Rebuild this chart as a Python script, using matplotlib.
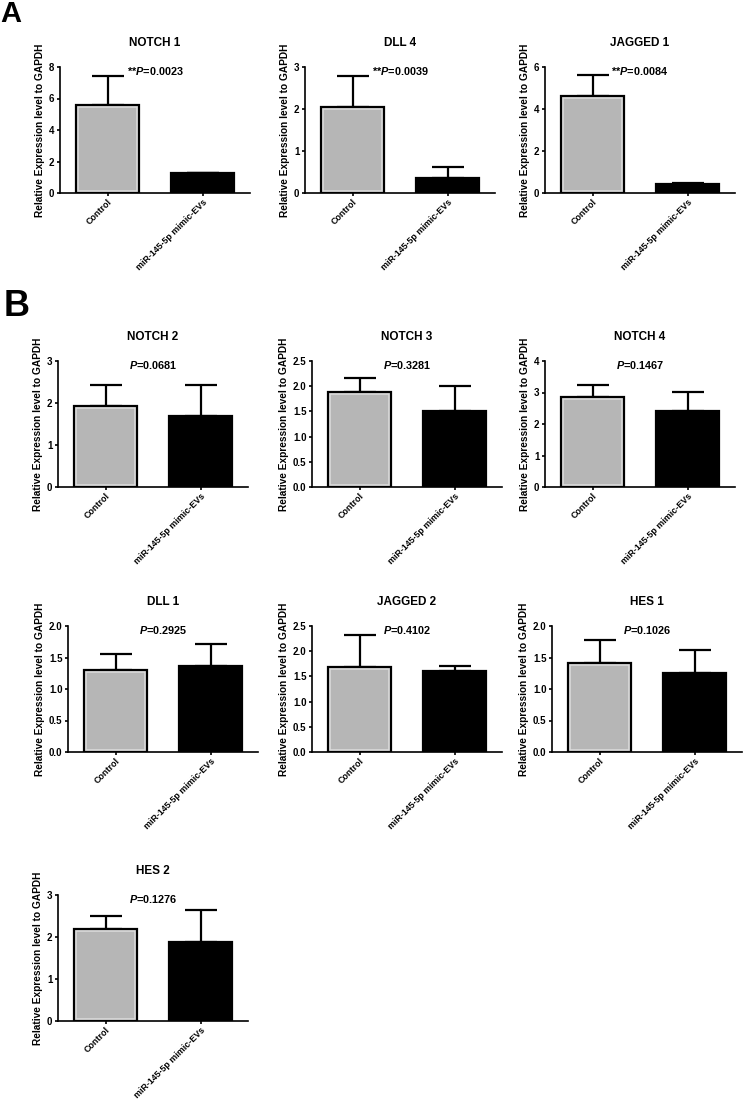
import matplotlib
matplotlib.use("Agg")
import matplotlib.pyplot as plt
import numpy as np

plt.rcParams['font.family'] = ['Liberation Sans', 'DejaVu Sans']
plt.rcParams['font.weight'] = 'bold'
plt.rcParams['mathtext.fontset'] = 'custom'
plt.rcParams['mathtext.it'] = 'Liberation Sans:italic:bold'
plt.rcParams['mathtext.rm'] = 'Liberation Sans:bold'

# ---- data ----
genes = ["NOTCH 1", "DLL 4", "JAGGED 1", "NOTCH 2", "NOTCH 3", "NOTCH 4",
         "DLL 1", "JAGGED 2", "HES 1", "HES 2"]
groups = ["Control", "miR-145-5p mimic-EVs"]
control_mean = [5.57, 2.04, 4.63, 1.92, 1.89, 2.85, 1.30, 1.68, 1.41, 2.20]
control_err = [1.88, 0.75, 1.00, 0.50, 0.27, 0.40, 0.26, 0.64, 0.37, 0.30]
mimic_mean = [1.25, 0.36, 0.42, 1.69, 1.51, 2.42, 1.37, 1.61, 1.25, 1.88]
mimic_err = [0.05, 0.27, 0.07, 0.75, 0.49, 0.60, 0.35, 0.09, 0.37, 0.76]
p_labels = ["**$P$=0.0023", "**$P$=0.0039", "**$P$=0.0084", "$P$=0.0681",
            "$P$=0.3281", "$P$=0.1467", "$P$=0.2925", "$P$=0.4102",
            "$P$=0.1026", "$P$=0.1276"]
y_max = [8, 3, 6, 3, 2.5, 4, 2.0, 2.5, 2.0, 3]
y_step = [2, 1, 2, 1, 0.5, 1, 0.5, 0.5, 0.5, 1]
y_decimals = [0, 0, 0, 0, 1, 0, 1, 1, 1, 0]

# ---- layout (pixels) ----
W, H = 744, 1105
ax_left_px = [60, 305, 545, 58, 312, 545, 68, 312, 552, 58]
ax_bottom_px = [193, 193, 193, 487, 487, 487, 752, 752, 752, 1021]
ax_w_px = 190
ax_h_px = 126

fig = plt.figure(figsize=(W / 100, H / 100), dpi=100)
fill_colors = ['#B6B6B6', '#000000']
inner_edge = ['#DCDCDC', '#000000']

for i, g in enumerate(genes):
    rect = [ax_left_px[i] / W, 1 - ax_bottom_px[i] / H, ax_w_px / W, ax_h_px / H]
    ax = fig.add_axes(rect)
    x = np.arange(2)
    means = [control_mean[i], mimic_mean[i]]
    errs = [control_err[i], mimic_err[i]]
    # fill with light inner rim (clipped to the bar itself)
    under = ax.bar(x, means, width=0.67, color=fill_colors, edgecolor=inner_edge,
                   linewidth=4.0, zorder=2)
    for p in under.patches:
        p.set_clip_path(p)
    ax.bar(x, means, width=0.67, color='none', edgecolor='black',
           linewidth=1.6, zorder=3)
    ax.errorbar(x, means, yerr=[[0, 0], errs], fmt='none', ecolor='black',
                elinewidth=1.6, capsize=11.5, capthick=1.6, zorder=1)
    ax.set_xlim(-0.5, 1.5)
    ax.set_ylim(0, y_max[i])
    ticks = np.arange(0, y_max[i] + 1e-9, y_step[i])
    ax.set_yticks(ticks)
    fmt = "{:.%df}" % y_decimals[i]
    ax.set_yticklabels([fmt.format(t) for t in ticks], fontsize=7, fontweight='bold')
    ax.set_xticks(x)
    ax.set_xticklabels(groups, rotation=45, ha='right', va='top',
                       rotation_mode='anchor', fontsize=6.4, fontweight='bold')
    for s in ['top', 'right']:
        ax.spines[s].set_visible(False)
    for s in ['left', 'bottom']:
        ax.spines[s].set_linewidth(1.2)
    ax.tick_params(axis='both', direction='out', length=2.5, width=1.2, pad=1.5)
    ax.tick_params(axis='x', pad=1.0)
    ax.set_ylabel("Relative Expression level to GAPDH", fontsize=7.3,
                  fontweight='bold', labelpad=3)
    ax.text(0.5, 1 + 24 / ax_h_px, g, transform=ax.transAxes, ha='center',
            va='center', fontsize=8.5, fontweight='bold')
    ax.text(0.5, 0.97, p_labels[i], transform=ax.transAxes, ha='center',
            va='center', fontsize=7.8, fontweight='bold')

fig.text(0 / W, 1 - 14 / H, "A", fontsize=21, fontweight='bold', ha='left', va='center')
fig.text(4 / W, 1 - 307 / H, "B", fontsize=26, fontweight='bold', ha='left', va='center')

fig.savefig("out.png", dpi=100)
